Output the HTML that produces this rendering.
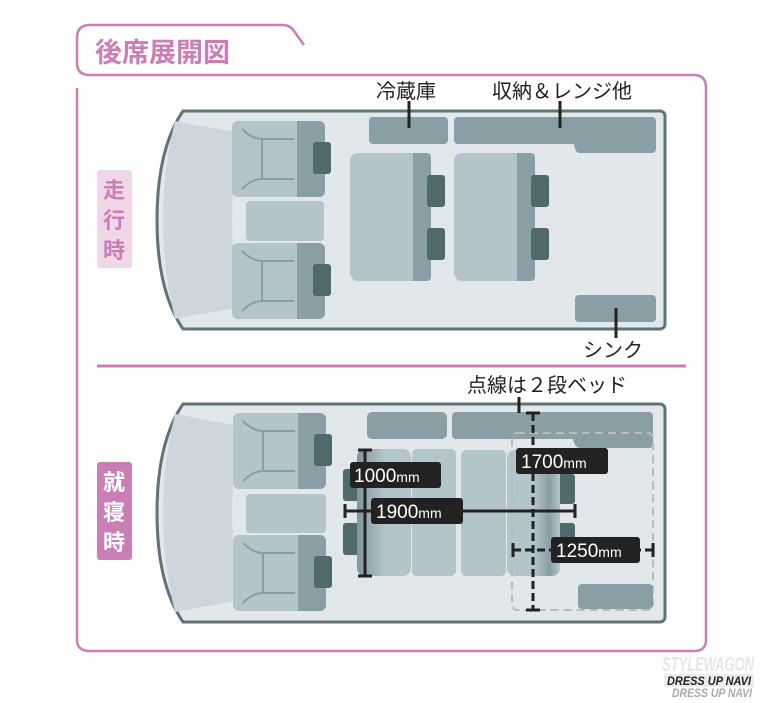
<!DOCTYPE html>
<html><head><meta charset="utf-8"><style>
body{margin:0;background:#fff;width:771px;height:698px;overflow:hidden}
svg text{font-family:"Liberation Sans","Noto Sans CJK JP",sans-serif}
</style></head><body>
<svg width="771" height="698" viewBox="0 0 771 698" xmlns="http://www.w3.org/2000/svg">
<defs>
<linearGradient id="bd" x1="0" x2="1"><stop offset="0" stop-color="#7f959d"/><stop offset="0.5" stop-color="#b3c4cb"/><stop offset="1" stop-color="#b3c4cb"/></linearGradient>
<linearGradient id="bd2" x1="0" x2="1"><stop offset="0" stop-color="#b3c4cb"/><stop offset="0.5" stop-color="#b3c4cb"/><stop offset="0.8" stop-color="#8a9ea6"/><stop offset="1" stop-color="#b3c4cb"/></linearGradient>
<g id="seat">
<rect x="0" y="0" width="93" height="76" rx="6" fill="#b3c4cb"/>
<path d="M65 0 H87 A6 6 0 0 1 93 6 V70 A6 6 0 0 1 87 76 H65Z" fill="#8a9ea6"/>
<rect x="81" y="21" width="18" height="32" rx="3" fill="#50696b"/>
<path d="M10 8 Q20 18 30 18 H62 M30 18 V58 M10 68 Q20 58 30 58 H62" fill="none" stroke="#8a9ea6" stroke-width="2"/>
</g>
<g id="van">
<path d="M26 0 H503 A5 5 0 0 1 508 5 V213 A5 5 0 0 1 503 218 H26 Q0 180 0 109 Q0 38 26 0Z" fill="#e1e7ea" stroke="#5f7477" stroke-width="3"/>
<path d="M18 10 Q6 60 6 109 Q6 158 18 208 L83 196 Q75 150 75 109 Q75 68 83 22Z" fill="#cdd6dc"/>
</g>
</defs>
<!-- frame -->
<path d="M90 25 H283 Q290 25 294 31 L304 45" fill="none" stroke="#c97fb5" stroke-width="2.5"/>
<path d="M90 25 Q77 25 77 38 V63 Q77 75 90 75 H694 Q706 75 706 88 V640 Q706 651 694 651 H90 Q77 651 77 640 V88" fill="none" stroke="#c97fb5" stroke-width="2.5"/>
<text x="95" y="62" font-size="27" font-weight="bold" fill="#c97fb5">後席展開図</text>
<line x1="97" y1="366" x2="686" y2="366" stroke="#c97fb5" stroke-width="3"/>
<rect x="97" y="170" width="35" height="98" rx="3" fill="#efd7e8"/>
<text x="114" y="198" font-size="22" font-weight="bold" fill="#c97fb5" text-anchor="middle">走</text>
<text x="114" y="228" font-size="22" font-weight="bold" fill="#c97fb5" text-anchor="middle">行</text>
<text x="114" y="258" font-size="22" font-weight="bold" fill="#c97fb5" text-anchor="middle">時</text>
<rect x="97" y="462" width="35" height="98" rx="3" fill="#c97fb5"/>
<text x="114" y="490" font-size="22" font-weight="bold" fill="#fff" text-anchor="middle">就</text>
<text x="114" y="520" font-size="22" font-weight="bold" fill="#fff" text-anchor="middle">寝</text>
<text x="114" y="550" font-size="22" font-weight="bold" fill="#fff" text-anchor="middle">時</text>

<!-- van 1 -->
<use href="#van" x="157" y="111"/>
<use href="#seat" x="232" y="121"/><use href="#seat" x="232" y="243"/>
<rect x="246" y="201" width="78" height="40" rx="4" fill="#b3c4cb"/>
<rect x="369" y="117" width="79" height="27" rx="4" fill="#8a9ea6"/>
<path d="M458 117 H652 A4 4 0 0 1 656 121 V149 A4 4 0 0 1 652 153 H580 Q575 153 574 144 H458 A4 4 0 0 1 454 140 V121 A4 4 0 0 1 458 117Z" fill="#8a9ea6"/>
<g id="bench"><rect x="350" y="153" width="81" height="128" rx="8" fill="#b3c4cb"/><path d="M413 153 H427 A4 4 0 0 1 431 157 V277 A4 4 0 0 1 427 281 H413Z" fill="#8a9ea6"/>
<rect x="427" y="175" width="18" height="32" rx="3" fill="#50696b"/><rect x="427" y="228" width="18" height="32" rx="3" fill="#50696b"/></g>
<use href="#bench" x="104"/>
<rect x="575" y="295" width="81" height="27" rx="4" fill="#8a9ea6"/>
<g stroke="#222" stroke-width="3"><line x1="409" y1="101" x2="409" y2="128"/><line x1="560" y1="101" x2="560" y2="128"/><line x1="616" y1="308" x2="616" y2="338"/></g>
<g font-size="20" fill="#222"><text x="376" y="98">冷蔵庫</text><text x="492" y="98">収納＆レンジ他</text><text x="583" y="357">シンク</text>
<text x="467" y="392">点線は２段ベッド</text></g>

<!-- van 2 -->
<use href="#van" x="157" y="404"/>
<use href="#seat" x="233" y="413"/><use href="#seat" x="233" y="535"/>
<rect x="246" y="494" width="80" height="39" rx="4" fill="#b3c4cb"/>
<rect x="367" y="412" width="80" height="27" rx="5" fill="#8a9ea6"/>
<path d="M456 412 H649 A4 4 0 0 1 653 416 V444 A4 4 0 0 1 649 448 H580 Q575 448 573 439 H456 A4 4 0 0 1 452 435 V416 A4 4 0 0 1 456 412Z" fill="#8a9ea6"/>
<rect x="343" y="469" width="18" height="32" rx="3" fill="#50696b"/><rect x="343" y="523" width="18" height="32" rx="3" fill="#50696b"/>
<rect x="558" y="474" width="17" height="30" rx="3" fill="#50696b"/><rect x="558" y="523" width="17" height="30" rx="3" fill="#50696b"/>
<rect x="357" y="449" width="54" height="127" rx="8" fill="url(#bd)"/>
<rect x="412" y="449" width="44" height="127" rx="5" fill="#b3c4cb"/>
<rect x="461" y="450" width="45" height="126" rx="5" fill="#b3c4cb"/>
<rect x="507" y="450" width="53" height="126" rx="8" fill="url(#bd2)"/>
<rect x="512" y="433" width="141" height="177" rx="5" fill="none" stroke="#b8bcbd" stroke-width="2" stroke-dasharray="8 5"/>
<rect x="578" y="584" width="75" height="25" rx="4" fill="#8a9ea6"/>
<!-- dims -->
<g stroke="#222" stroke-width="3" fill="none">
<line x1="365" y1="450" x2="365" y2="576"/><line x1="358" y1="450" x2="372" y2="450"/><line x1="358" y1="576" x2="372" y2="576"/>
<line x1="345" y1="511" x2="575" y2="511"/><line x1="345" y1="504" x2="345" y2="518"/><line x1="575" y1="504" x2="575" y2="518"/>
<line x1="519" y1="397" x2="519" y2="413"/>
<line x1="533" y1="413" x2="533" y2="610" stroke-dasharray="8 4"/><line x1="526" y1="413" x2="540" y2="413"/><line x1="526" y1="610" x2="540" y2="610"/>
<line x1="513" y1="550" x2="653" y2="550" stroke-dasharray="8 4"/><line x1="513" y1="543" x2="513" y2="557"/><line x1="653" y1="543" x2="653" y2="557"/>
</g>
<g font-size="19" fill="#fff">
<rect x="350" y="462" width="91" height="26" rx="3" fill="#222"/><text x="354" y="482">1000<tspan font-size="14">mm</tspan></text>
<rect x="371" y="498" width="92" height="26" rx="3" fill="#222"/><text x="376" y="518">1900<tspan font-size="14">mm</tspan></text>
<rect x="516" y="448" width="92" height="26" rx="3" fill="#222"/><text x="521" y="468">1700<tspan font-size="14">mm</tspan></text>
<rect x="551" y="537" width="89" height="26" rx="3" fill="#222"/><text x="556" y="557">1250<tspan font-size="14">mm</tspan></text>
</g>
<!-- watermark -->
<text x="662" y="671" font-size="20" font-style="italic" font-weight="bold" fill="#e6e6e6" textLength="92" lengthAdjust="spacingAndGlyphs">STYLEWAGON</text>
<rect x="664" y="674" width="90" height="13" fill="#ececec"/>
<text x="667" y="685" font-size="12" font-style="italic" font-weight="bold" fill="#222" textLength="84" lengthAdjust="spacingAndGlyphs">DRESS UP NAVI</text>
<text x="672" y="697" font-size="12" font-style="italic" font-weight="bold" fill="#aaa" textLength="80" lengthAdjust="spacingAndGlyphs">DRESS UP NAVI</text>
</svg>
</body></html>
